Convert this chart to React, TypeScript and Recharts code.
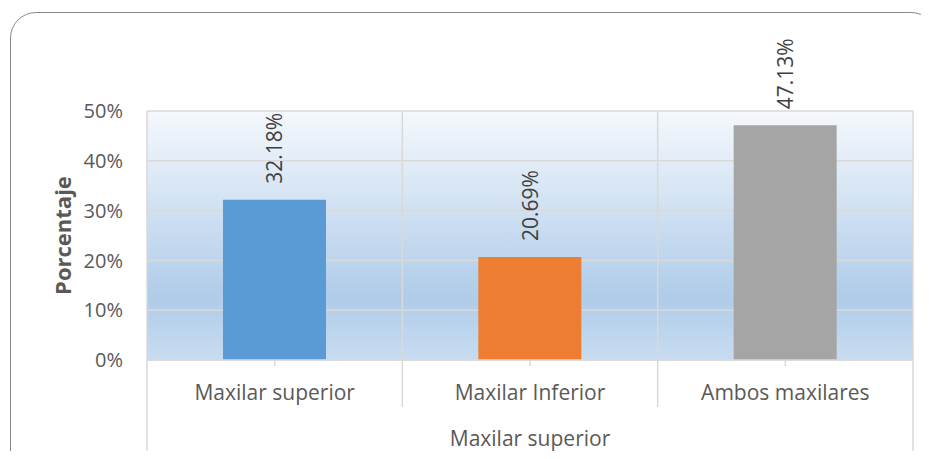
import { BarChart, Bar, XAxis, YAxis, CartesianGrid, Cell, LabelList } from "recharts";

const categories = ["Maxilar superior", "Maxilar Inferior", "Ambos maxilares"];
const shares = [0.3218, 0.2069, 0.4713];
const barColors = ["#5b9bd5", "#ed7d31", "#a5a5a5"];
const yTicks = [0, 0.1, 0.2, 0.3, 0.4, 0.5];
const groupLabel = "Maxilar superior";
const yLabel = "Porcentaje";

const data = categories.map((name, i) => ({ name, value: shares[i] }));

const W = 929;
const H = 459;
const margin = { top: 111, right: 16, bottom: 0, left: 0 };
const Y_AXIS_W = 147;
const X_AXIS_H = 99;
const plotW = W - margin.left - margin.right - Y_AXIS_W;
const plotBottom = H - margin.bottom - X_AXIS_H;
const band = plotW / categories.length;

const GRID = "#d9d9d9";
const TEXT = "#595959";
const FONT = '"Open Sans", sans-serif';

const pct = (v: number) => `${Math.round(v * 100)}%`;

// category label plus the divider / tick marks hanging under the axis
function CategoryTick(props: any) {
  const { x, payload, index } = props;
  const left = x - band / 2;
  const right = x + band / 2;
  const last = index === categories.length - 1;
  return (
    <g>
      <line x1={x} x2={x} y1={plotBottom} y2={plotBottom + 6} stroke={GRID} strokeWidth={1.5} />
      <line x1={left} x2={left} y1={plotBottom} y2={index === 0 ? H : plotBottom + 47} stroke={GRID} strokeWidth={1.5} />
      {last && <line x1={right} x2={right} y1={plotBottom} y2={H} stroke={GRID} strokeWidth={1.5} />}
      <text x={x} y={plotBottom + 32} textAnchor="middle" dominantBaseline="central" fill={TEXT} fontSize={21} fontFamily={FONT}>
        {payload.value}
      </text>
    </g>
  );
}

function ValueLabel(props: any) {
  const { x, y, width, value } = props;
  const cx = x + width / 2;
  const top = y - 16;
  return (
    <text
      x={cx}
      y={top}
      transform={`rotate(-90 ${cx} ${top})`}
      textAnchor="start"
      dominantBaseline="central"
      fill="#404040"
      fontSize={21}
      fontFamily={FONT}
    >
      {(value * 100).toFixed(2)}%
    </text>
  );
}

export default function App() {
  return (
    <div style={{ position: "relative", width: W, height: H, margin: -8, overflow: "hidden", background: "#fff" }}>
      <div
        style={{
          position: "absolute",
          left: 10,
          top: 12,
          width: 925,
          height: 480,
          border: "1.5px solid #8a8a8a",
          borderRadius: 26,
        }}
      />
      <BarChart width={W} height={H} data={data} margin={margin} style={{ position: "absolute", left: 0, top: 0 }}>
        <defs>
          <linearGradient id="plotBg" x1="0" y1="0" x2="0" y2="1">
            <stop offset="0%" stopColor="#f5f8fc" />
            <stop offset="75%" stopColor="#afcce9" />
            <stop offset="100%" stopColor="#c8dcf0" />
          </linearGradient>
        </defs>
        <CartesianGrid
          fill="url(#plotBg)"
          fillOpacity={1}
          stroke={GRID}
          strokeWidth={1.5}
          verticalCoordinatesGenerator={({ offset }: any) =>
            categories.map((_, i) => offset.left + i * (offset.width / categories.length)).concat(offset.left + offset.width)
          }
        />
        <XAxis
          dataKey="name"
          height={X_AXIS_H}
          axisLine={{ stroke: GRID, strokeWidth: 1.5 }}
          tickLine={false}
          tick={<CategoryTick />}
          interval={0}
          label={{
            content: ({ viewBox }: any) => (
              <text
                x={viewBox.x + viewBox.width / 2}
                y={viewBox.y + 78}
                textAnchor="middle"
                dominantBaseline="central"
                fill={TEXT}
                fontSize={21}
                fontFamily={FONT}
              >
                {groupLabel}
              </text>
            ),
          }}
        />
        <YAxis
          width={Y_AXIS_W}
          domain={[0, 0.5]}
          ticks={yTicks}
          tickFormatter={pct}
          axisLine={false}
          tickLine={false}
          tickMargin={18}
          tick={{ fill: TEXT, fontSize: 20, fontFamily: FONT }}
          label={{
            content: ({ viewBox }: any) => {
              const lx = viewBox.x + 62;
              const ly = viewBox.y + viewBox.height / 2;
              return (
                <text
                  x={lx}
                  y={ly}
                  transform={`rotate(-90 ${lx} ${ly})`}
                  textAnchor="middle"
                  dominantBaseline="central"
                  fill={TEXT}
                  fontSize={22}
                  fontWeight="bold"
                  fontFamily={FONT}
                >
                  {yLabel}
                </text>
              );
            },
          }}
        />
        <Bar dataKey="value" barSize={103} isAnimationActive={false}>
          {data.map((d, i) => (
            <Cell key={d.name} fill={barColors[i]} />
          ))}
          <LabelList dataKey="value" content={<ValueLabel />} />
        </Bar>
      </BarChart>
    </div>
  );
}
